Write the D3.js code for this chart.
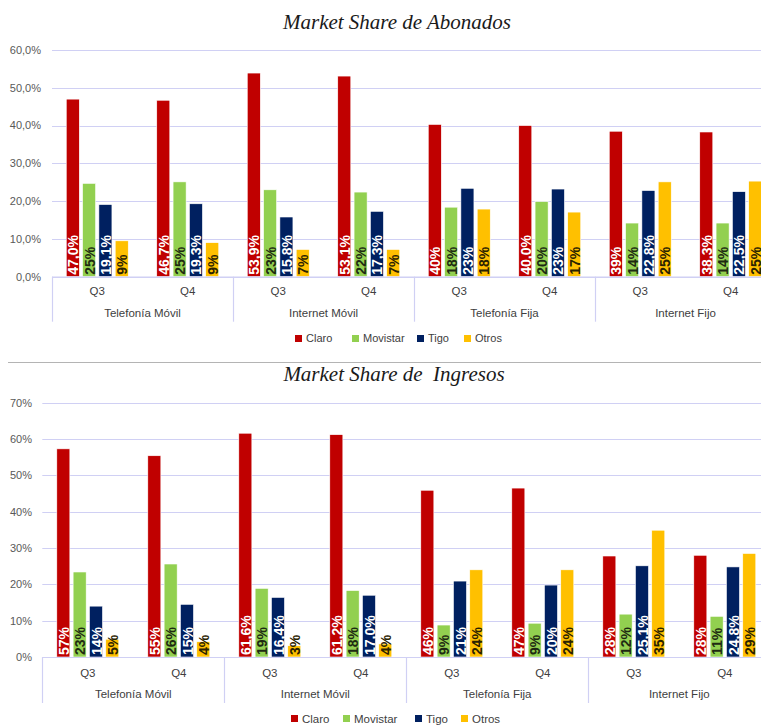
<!DOCTYPE html>
<html>
<head>
<meta charset="utf-8">
<script src="https://cdn.jsdelivr.net/npm/d3@7"></script>
<style>
  html, body { margin: 0; padding: 0; background: #ffffff; overflow: hidden; }
  svg { display: block; }
</style>
</head>
<body>
<svg id="chart" width="761" height="725"></svg>
<script>
// ---------- DATA ----------
const categories = ["Telefonía Móvil", "Internet Móvil", "Telefonía Fija", "Internet Fijo"];
const quarters = ["Q3", "Q4"];
const series = ["Claro", "Movistar", "Tigo", "Otros"];
const seriesColors = ["#c00000", "#92d050", "#002060", "#ffc000"];
const labelColors = ["#ffffff", "#1e2a12", "#ffffff", "#2a2200"];

// Market Share de Abonados (values in %, order: TM Q3, TM Q4, IM Q3, IM Q4, TF Q3, TF Q4, IF Q3, IF Q4)
const abonadosClaro    = [47.0, 46.7, 53.9, 53.1, 40.3, 40.0, 38.5, 38.3];
const abonadosMovistar = [24.7, 25.1, 23.0, 22.4, 18.4, 19.9, 14.2, 14.2];
const abonadosTigo     = [19.1, 19.3, 15.8, 17.3, 23.4, 23.2, 22.8, 22.5];
const abonadosOtros    = [9.5, 9.0, 7.2, 7.2, 17.9, 17.1, 25.1, 25.3];
const abonadosLabelsClaro    = ["47,0%", "46,7%", "53,9%", "53,1%", "40%", "40,0%", "39%", "38,3%"];
const abonadosLabelsMovistar = ["25%", "25%", "23%", "22%", "18%", "20%", "14%", "14%"];
const abonadosLabelsTigo     = ["19,1%", "19,3%", "15,8%", "17,3%", "23%", "23%", "22,8%", "22,5%"];
const abonadosLabelsOtros    = ["9%", "9%", "7%", "7%", "18%", "17%", "25%", "25%"];
const abonadosTicks = [0, 10, 20, 30, 40, 50, 60];
const abonadosTickLabels = ["0,0%", "10,0%", "20,0%", "30,0%", "40,0%", "50,0%", "60,0%"];

// Market Share de Ingresos
const ingresosClaro    = [57.3, 55.4, 61.6, 61.2, 45.9, 46.5, 27.8, 28.0];
const ingresosMovistar = [23.4, 25.6, 18.9, 18.3, 8.8, 9.3, 11.8, 11.2];
const ingresosTigo     = [14.0, 14.5, 16.4, 17.0, 20.9, 19.8, 25.1, 24.8];
const ingresosOtros    = [4.9, 4.2, 3.1, 3.6, 24.0, 24.0, 34.9, 28.5];
const ingresosLabelsClaro    = ["57%", "55%", "61,6%", "61,2%", "46%", "47%", "28%", "28%"];
const ingresosLabelsMovistar = ["23%", "26%", "19%", "18%", "9%", "9%", "12%", "11%"];
const ingresosLabelsTigo     = ["14%", "15%", "16,4%", "17,0%", "21%", "20%", "25,1%", "24,8%"];
const ingresosLabelsOtros    = ["5%", "4%", "3%", "4%", "24%", "24%", "35%", "29%"];
const ingresosTicks = [0, 10, 20, 30, 40, 50, 60, 70];
const ingresosTickLabels = ["0%", "10%", "20%", "30%", "40%", "50%", "60%", "70%"];

// ---------- DRAW ----------
const svg = d3.select("#chart");
const FONT = "'Liberation Sans', Arial, sans-serif";
const GRID = "#d0d0f4";

// subcategory keys (category|quarter)
const subKeys = [];
categories.forEach(c => quarters.forEach(q => subKeys.push(c + "|" + q)));

function drawChart(cfg) {
  const g = svg.append("g");
  const { left, right, y0, yTop, maxV, values, labels, ticks, tickLabels } = cfg;

  const x0 = d3.scaleBand().domain(subKeys).range([left, right]).paddingInner(0).paddingOuter(0);
  const y = d3.scaleLinear().domain([0, maxV]).range([y0, yTop]);
  const groupW = 62;
  const x1 = d3.scaleBand().domain(series).range([0, groupW]).paddingInner(0.2).paddingOuter(0);

  // gridlines
  g.append("g").selectAll("line").data(ticks).join("line")
    .attr("x1", left).attr("x2", 761 + 20)
    .attr("y1", d => Math.round(y(d)) + 0.5).attr("y2", d => Math.round(y(d)) + 0.5)
    .attr("stroke", GRID).attr("stroke-width", 1.2);

  // y tick labels
  g.append("g").selectAll("text").data(ticks).join("text")
    .attr("x", cfg.tickX).attr("y", d => y(d)).attr("dy", "0.35em")
    .attr("text-anchor", "end")
    .attr("font-family", FONT).attr("font-size", cfg.tickSize).attr("fill", "#595959")
    .text((d, i) => tickLabels[i]);

  // bars
  const rows = [];
  subKeys.forEach((k, i) => {
    series.forEach((s, si) => {
      rows.push({ key: k, s, si, v: values[si][i], label: labels[si][i] });
    });
  });
  const bx = d => x0(d.key) + (x0.bandwidth() - groupW) / 2 + x1(d.s);

  g.append("g").selectAll("rect").data(rows).join("rect")
    .attr("x", bx)
    .attr("y", d => y(d.v))
    .attr("width", x1.bandwidth())
    .attr("height", d => y0 - y(d.v))
    .attr("fill", d => seriesColors[d.si])
    .attr("stroke", "#ffffff").attr("stroke-width", 0.6);

  // data labels (rotated, inside base)
  g.append("g").selectAll("text").data(rows).join("text")
    .attr("transform", d => `translate(${bx(d) + x1.bandwidth() / 2 + 0.5},${y0 - 2}) rotate(-90)`)
    .attr("dy", "0.36em")
    .attr("text-anchor", "start")
    .attr("font-family", FONT).attr("font-weight", "bold").attr("font-size", cfg.labelSize)
    .attr("fill", d => labelColors[d.si])
    .text(d => d.label);

  // x axis baseline
  g.append("line").attr("x1", left).attr("x2", 781)
    .attr("y1", y0 + 0.5).attr("y2", y0 + 0.5).attr("stroke", GRID).attr("stroke-width", 1.2);

  // category separators
  const groupEdges = categories.map((c, i) => x0(c + "|" + quarters[0]));
  groupEdges.push(right);
  g.append("g").selectAll("line").data(groupEdges).join("line")
    .attr("x1", d => Math.round(d) + 0.5).attr("x2", d => Math.round(d) + 0.5)
    .attr("y1", y0).attr("y2", y0 + cfg.sepLen)
    .attr("stroke", GRID).attr("stroke-width", 1.2);

  // quarter labels
  g.append("g").selectAll("text").data(subKeys).join("text")
    .attr("x", d => x0(d) + x0.bandwidth() / 2).attr("y", y0 + cfg.qOffset).attr("dy", "0.35em")
    .attr("text-anchor", "middle")
    .attr("font-family", FONT).attr("font-size", cfg.axisSize).attr("fill", "#404040")
    .text(d => d.split("|")[1]);

  // category labels
  g.append("g").selectAll("text").data(categories).join("text")
    .attr("x", c => x0(c + "|" + quarters[0]) + x0.bandwidth())
    .attr("y", y0 + cfg.cOffset).attr("dy", "0.35em")
    .attr("text-anchor", "middle")
    .attr("font-family", FONT).attr("font-size", cfg.axisSize).attr("fill", "#404040")
    .text(c => c);

  // title
  g.append("text").attr("x", cfg.titleX).attr("y", cfg.titleY)
    .attr("text-anchor", "middle")
    .attr("font-family", "'Liberation Serif', 'DejaVu Serif', serif")
    .attr("font-style", "italic").attr("font-size", 21).attr("fill", "#1a1a1a")
    .style("white-space", "pre")
    .text(cfg.title);

  // legend
  const lg = g.append("g");
  series.forEach((s, i) => {
    lg.append("rect").attr("x", cfg.legendX[i]).attr("y", cfg.legendY - 3.5)
      .attr("width", 7).attr("height", 7).attr("fill", seriesColors[i]);
    lg.append("text").attr("x", cfg.legendX[i] + 11).attr("y", cfg.legendY).attr("dy", "0.35em")
      .attr("font-family", FONT).attr("font-size", cfg.legendSize).attr("fill", "#404040")
      .text(s);
  });
}

drawChart({
  left: 52, right: 776, y0: 276.7, yTop: 50, maxV: 60,
  values: [abonadosClaro, abonadosMovistar, abonadosTigo, abonadosOtros],
  labels: [abonadosLabelsClaro, abonadosLabelsMovistar, abonadosLabelsTigo, abonadosLabelsOtros],
  ticks: abonadosTicks, tickLabels: abonadosTickLabels,
  tickX: 41, tickSize: 11, labelSize: 14, axisSize: 11.5,
  sepLen: 45, qOffset: 14, cOffset: 36,
  title: "Market Share de Abonados", titleX: 397, titleY: 29,
  legendX: [295, 352, 417, 464], legendY: 338.5, legendSize: 11
});

// divider between charts
svg.append("line").attr("x1", 8).attr("x2", 761).attr("y1", 362.5).attr("y2", 362.5)
  .attr("stroke", "#b4b4b4").attr("stroke-width", 1.2);

drawChart({
  left: 42.3, right: 770.3, y0: 657, yTop: 402.7, maxV: 70,
  values: [ingresosClaro, ingresosMovistar, ingresosTigo, ingresosOtros],
  labels: [ingresosLabelsClaro, ingresosLabelsMovistar, ingresosLabelsTigo, ingresosLabelsOtros],
  ticks: ingresosTicks, tickLabels: ingresosTickLabels,
  tickX: 32, tickSize: 11, labelSize: 14, axisSize: 11.5,
  sepLen: 46, qOffset: 16.3, cOffset: 37.3,
  title: "Market Share de  Ingresos", titleX: 394, titleY: 381,
  legendX: [291, 343, 415, 461], legendY: 718.5, legendSize: 11.5
});
</script>
</body>
</html>
